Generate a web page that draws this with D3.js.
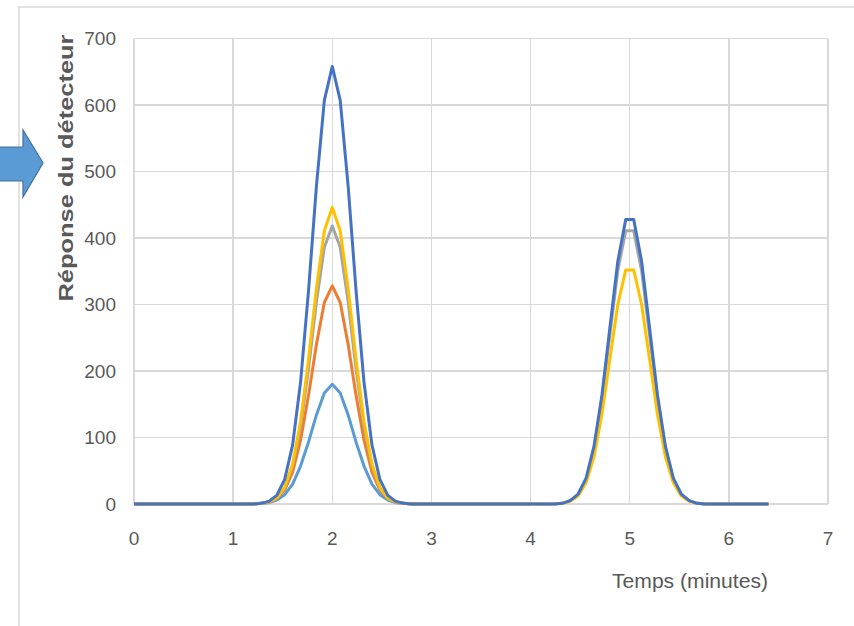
<!DOCTYPE html>
<meta charset="utf-8">
<style>
body { margin: 0; background: #fff; }
.grid line { stroke: #d9d9d9; stroke-width: 1.5; shape-rendering: crispEdges; }
.tick-label { font-family: "Liberation Sans", Arial, sans-serif; font-size: 19px; fill: #595959; }
.series { fill: none; stroke-width: 3; stroke-linejoin: round; }
</style>
<body>
<div id="vis-container"></div>
<script src="https://cdn.jsdelivr.net/npm/d3@7"></script>
<script>

// sampling step of the detector (minutes)
var timeStep = 0.08;

var xTicks = [0, 1, 2, 3, 4, 5, 6, 7];
var yTicks = [0, 100, 200, 300, 400, 500, 600, 700];

// detector response per sample (blue, grey, yellow run to 6.4 min)
var seriesBlue = [
  0,0,0,0,0,0,0,0,0,0,
  0,0,0,0,0,0,1,4,13,37,
  89,183,320,478,607,658,607,478,320,183,
  89,37,13,4,1,0,0,0,0,0,
  0,0,0,0,0,0,0,0,0,0,
  0,0,0,0,1,5,15,39,87,164,
  265,365,428,428,365,265,164,87,39,15,
  5,1,0,0,0,0,0,0,0,0,
  0];
var seriesGray = [
  0,0,0,0,0,0,0,0,0,0,
  0,0,0,0,0,0,1,3,8,23,
  57,116,203,304,386,418,386,304,203,116,
  57,23,8,3,1,0,0,0,0,0,
  0,0,0,0,0,0,0,0,0,0,
  0,0,0,0,1,5,14,37,83,158,
  254,351,411,411,351,254,158,83,37,14,
  5,1,0,0,0,0,0,0,0,0,
  0];
var seriesYellow = [
  0,0,0,0,0,0,0,0,0,0,
  0,0,0,0,0,0,1,3,9,25,
  60,124,217,324,411,446,411,324,217,124,
  60,25,9,3,1,0,0,0,0,0,
  0,0,0,0,0,0,0,0,0,0,
  0,0,0,0,1,4,12,32,71,135,
  218,300,352,352,300,218,135,71,32,12,
  4,1,0,0,0,0,0,0,0,0,
  0];
// orange and light blue only have the first peak and stop earlier
var seriesOrange = [
  0,0,0,0,0,0,0,0,0,0,
  0,0,0,0,0,0,1,3,8,21,
  48,96,163,240,303,328,303,240,163,96,
  48,21,8,3,1,0,0,0,0,0,
  0,0,0,0,0,0,0,0,0,0,
  0];
var seriesLightBlue = [
  0,0,0,0,0,0,0,0,0,0,
  0,0,0,0,0,0,1,2,6,14,
  30,57,93,134,167,180,167,134,93,57,
  30,14,6,2,1,0,0,0,0,0,
  0,0,0,0,0,0,0,0,0,0,
  0];

// drawing order: last one ends up on top
var series = [
  {values: seriesLightBlue, color: '#5b9bd5'},
  {values: seriesOrange, color: '#ed7d31'},
  {values: seriesGray, color: '#a5a5a5'},
  {values: seriesYellow, color: '#ffc000'},
  {values: seriesBlue, color: '#4472c4'}
];

var width = 854, height = 626;

var svg = d3.select("#vis-container").append("svg")
  .attr("width", width)
  .attr("height", height);

var xScale = d3.scaleLinear().domain([0, 7]).range([134, 828]);
var yScale = d3.scaleLinear().domain([0, 700]).range([504, 38.5]);

// outer chart frame (only top and left show in the picture)
svg.append("path")
  .attr("d", "M19," + height + "V7H" + width)
  .attr("fill", "none")
  .attr("stroke", "#d9d9d9")
  .attr("stroke-width", 1.5);

// gridlines
var grid = svg.append("g").attr("class", "grid");
grid.selectAll(".hline")
  .data(yTicks)
  .enter().append("line")
  .attr("x1", xScale(0)).attr("x2", xScale(7))
  .attr("y1", d => yScale(d)).attr("y2", d => yScale(d));
grid.selectAll(".vline")
  .data(xTicks)
  .enter().append("line")
  .attr("x1", d => xScale(d)).attr("x2", d => xScale(d))
  .attr("y1", yScale(0)).attr("y2", yScale(700));

// tick labels
svg.selectAll(".ylab")
  .data(yTicks)
  .enter().append("text")
  .attr("class", "tick-label")
  .attr("x", 116)
  .attr("y", d => yScale(d))
  .attr("dy", "0.35em")
  .attr("text-anchor", "end")
  .text(d => d);
svg.selectAll(".xlab")
  .data(xTicks)
  .enter().append("text")
  .attr("class", "tick-label")
  .attr("x", d => xScale(d))
  .attr("y", 538)
  .attr("dy", "0.35em")
  .attr("text-anchor", "middle")
  .text(d => d);

// series lines
var line = d3.line()
  .x((d, i) => xScale(i * timeStep))
  .y(d => yScale(d));

svg.selectAll(".series")
  .data(series)
  .enter().append("path")
  .attr("class", "series")
  .attr("stroke", d => d.color)
  .attr("d", d => line(d.values));

// axis titles
svg.append("text")
  .attr("class", "tick-label")
  .attr("x", 690)
  .attr("y", 581)
  .attr("dy", "0.35em")
  .attr("text-anchor", "middle")
  .style("font-size", "20px")
  .attr("textLength", 156)
  .attr("lengthAdjust", "spacingAndGlyphs")
  .text("Temps (minutes)");

svg.append("text")
  .attr("class", "tick-label")
  .attr("transform", "translate(66,168) rotate(-90)")
  .attr("dy", "0.35em")
  .attr("text-anchor", "middle")
  .style("font-size", "21px")
  .style("font-weight", "bold")
  .attr("textLength", 267)
  .attr("lengthAdjust", "spacingAndGlyphs")
  .text("Réponse du détecteur");

// block arrow on the left edge
var arrow = [[-2, 147], [23, 147], [23, 130], [43, 163], [23, 197], [23, 181], [-2, 181]];
svg.append("path")
  .attr("d", d3.line()(arrow) + "Z")
  .attr("fill", "#5b9bd5")
  .attr("stroke", "#41719c")
  .attr("stroke-width", 1.2);

</script>
</body>
</html>
